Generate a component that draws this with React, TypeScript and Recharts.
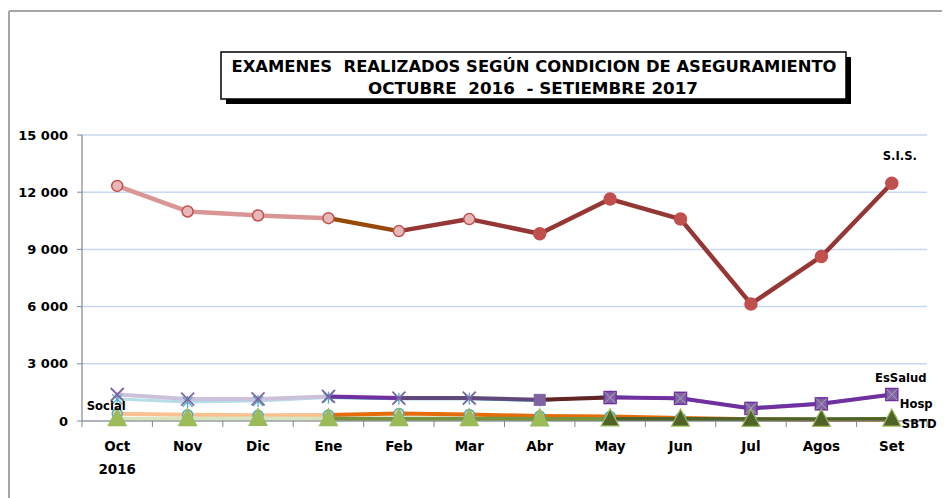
import React from 'react';
import { LineChart, Line, XAxis, YAxis, CartesianGrid } from 'recharts';

// ---- data ----
const months = ['Oct', 'Nov', 'Dic', 'Ene', 'Feb', 'Mar', 'Abr', 'May', 'Jun', 'Jul', 'Agos', 'Set'];
const sis = [12330, 10990, 10780, 10640, 9960, 10590, 9820, 11640, 10590, 6140, 8630, 12470];
const essalud = [1390, 1150, 1160, 1290, 1200, 1200, 1110, 1230, 1190, 660, 900, 1390];
const hosp = [1150, 1000, 1050, 1230, 1170, 1170, 1080, 1280, 1160, 700, 930, 1360];
const social = [380, 330, 300, 310, 390, 340, 260, 240, 160, 90, 70, 60];
const sbtd = [120, 120, 130, 120, 120, 120, 110, 110, 100, 90, 90, 100];
const yTicks = [0, 3000, 6000, 9000, 12000, 15000];
const title1 = 'EXAMENES  REALIZADOS SEGÚN CONDICION DE ASEGURAMIENTO';
const title2 = 'OCTUBRE  2016  - SETIEMBRE 2017';

// ---- layout ----
const W = 942;
const H = 490;
const MARGIN = { top: 127, right: 23, bottom: 17, left: 0 };
const Y_AXIS_W = 74;
const X_AXIS_H = 60;
const BAND = (W - MARGIN.right - MARGIN.left - Y_AXIS_W) / months.length;

const seg = (arr: number[], a: number, b: number) => arr.map((v, i) => (i >= a && i <= b ? v : null));

const segments: Record<string, (number | null)[]> = {
  sis0: seg(sis, 0, 3),
  sis1: seg(sis, 3, 4),
  sis2: seg(sis, 4, 11),
  es0: seg(essalud, 0, 3),
  es1: seg(essalud, 3, 4),
  es2: seg(essalud, 4, 6),
  es3: seg(essalud, 6, 7),
  es4: seg(essalud, 7, 11),
  ho0: seg(hosp, 0, 3),
  ho1: seg(hosp, 3, 11),
  so0: seg(social, 0, 3),
  so1: seg(social, 3, 11),
  sb0: seg(sbtd, 0, 3),
  sb1: seg(sbtd, 3, 7),
  sb2: seg(sbtd, 7, 11),
};

const data = months.map((m, i) => {
  const row: any = { month: m, sis: sis[i], essalud: essalud[i], hosp: hosp[i], social: social[i], sbtd: sbtd[i] };
  Object.keys(segments).forEach((k) => {
    row[k] = segments[k][i];
  });
  return row;
});

const FONT = '"DejaVu Sans", Verdana, sans-serif';

const fmt = (v: number) => String(v).replace(/\B(?=(\d{3})+(?!\d))/g, ' ');

const XTick = (props: any) => {
  const { x, y, payload, index } = props;
  const left = x - BAND / 2;
  return (
    <g>
      <line x1={left} x2={left} y1={y} y2={y + 6} stroke="#868686" strokeWidth={1} />
      {index === months.length - 1 && (
        <line x1={x + BAND / 2} x2={x + BAND / 2} y1={y} y2={y + 6} stroke="#868686" strokeWidth={1} />
      )}
      <text x={x} y={y + 30} textAnchor="middle" fontFamily={FONT} fontWeight="bold" fontSize={13.5} fill="#000">
        {payload.value}
      </text>
      {index === 0 && (
        <text x={x} y={y + 53} textAnchor="middle" fontFamily={FONT} fontWeight="bold" fontSize={13.5} fill="#000">
          2016
        </text>
      )}
    </g>
  );
};

const YTick = (props: any) => {
  const { x, y, payload } = props;
  return (
    <text x={x} y={y} dy={4.5} textAnchor="end" fontFamily={FONT} fontWeight="bold" fontSize={13} fill="#000">
      {fmt(payload.value)}
    </text>
  );
};

const sisDot = (p: any) => {
  const { cx, cy, index } = p;
  if (cx == null || cy == null) return <g key={`sd-${index}`} />;
  const solid = index >= 6;
  return (
    <circle
      key={`sd-${index}`}
      cx={cx}
      cy={cy}
      r={solid ? 6 : 5.5}
      fill={solid ? '#c0504d' : '#e6b9b8'}
      stroke="#c0504d"
      strokeWidth={1.5}
    />
  );
};

const esDot = (p: any) => {
  const { cx, cy, index } = p;
  if (cx == null || cy == null) return <g key={`ed-${index}`} />;
  if (index <= 5) {
    const s = 6.5;
    return (
      <g key={`ed-${index}`}>
        <line x1={cx - s} y1={cy - s} x2={cx + s} y2={cy + s} stroke="#8064a2" strokeWidth={1.8} />
        <line x1={cx - s} y1={cy + s} x2={cx + s} y2={cy - s} stroke="#8064a2" strokeWidth={1.8} />
      </g>
    );
  }
  if (index === 6) {
    return <rect key={`ed-${index}`} x={cx - 5.5} y={cy - 5.5} width={11} height={11} fill="#8064a2" stroke="#8064a2" />;
  }
  const s = 5.5;
  return (
    <g key={`ed-${index}`}>
      <rect x={cx - 6} y={cy - 6} width={12} height={12} fill="#8064a2" stroke="#7030a0" strokeWidth={1.5} />
      <line x1={cx - s} y1={cy - s} x2={cx + s} y2={cy + s} stroke="#b3a2c7" strokeWidth={1} />
      <line x1={cx - s} y1={cy + s} x2={cx + s} y2={cy - s} stroke="#b3a2c7" strokeWidth={1} />
    </g>
  );
};

const hoDot = (p: any) => {
  const { cx, cy, index } = p;
  if (cx == null || cy == null) return <g key={`hd-${index}`} />;
  const s = 5;
  return (
    <g key={`hd-${index}`}>
      <line x1={cx} y1={cy - 6} x2={cx} y2={cy + 6} stroke="#4bacc6" strokeWidth={1.3} />
      <line x1={cx - s} y1={cy - s} x2={cx + s} y2={cy + s} stroke="#4bacc6" strokeWidth={1.2} />
      <line x1={cx - s} y1={cy + s} x2={cx + s} y2={cy - s} stroke="#4bacc6" strokeWidth={1.2} />
    </g>
  );
};

const soDot = (p: any) => {
  const { cx, cy, index } = p;
  if (cx == null || cy == null) return <g key={`od-${index}`} />;
  return <circle key={`od-${index}`} cx={cx} cy={cy} r={5} fill="#fcd5b5" stroke="#4bacc6" strokeWidth={1.5} />;
};

const sbDot = (p: any) => {
  const { cx, cy, index } = p;
  if (cx == null || cy == null) return <g key={`bd-${index}`} />;
  const dark = index >= 7;
  return (
    <path
      key={`bd-${index}`}
      d={`M${cx},${cy - 10} L${cx + 9},${cy + 7} L${cx - 9},${cy + 7} Z`}
      fill={dark ? '#4f6228' : '#9bbb59'}
      stroke="#9bbb59"
      strokeWidth={1.2}
    />
  );
};

const makeLabel = (text: string, at: number, dx: number, dy: number, anchor: string) => (p: any) => {
  const { x, y, index } = p;
  if (index !== at || x == null || y == null) return null;
  return (
    <text
      key={`lbl-${text}`}
      x={x + dx}
      y={y + dy}
      textAnchor={anchor}
      fontFamily={FONT}
      fontWeight="bold"
      fontSize={11.6}
      fill="#000"
    >
      {text}
    </text>
  );
};

const segLine = (key: string, color: string, width: number) => (
  <Line
    key={key}
    type="linear"
    dataKey={key}
    stroke={color}
    strokeWidth={width}
    dot={false}
    activeDot={false}
    isAnimationActive={false}
    connectNulls={false}
    strokeLinejoin="round"
    strokeLinecap="round"
  />
);

export default function App() {
  return (
    <div style={{ position: 'relative', width: W, height: H, background: '#fff' }}>
      <LineChart width={W} height={H} data={data} margin={MARGIN}>
        <CartesianGrid horizontal vertical={false} stroke="#c6d9f1" strokeWidth={1.5} />
        <XAxis
          dataKey="month"
          height={X_AXIS_H}
          padding={{ left: BAND / 2, right: BAND / 2 }}
          axisLine={{ stroke: '#868686', strokeWidth: 1.2 }}
          tickLine={false}
          tickSize={0}
          tickMargin={0}
          interval={0}
          tick={<XTick />}
        />
        <YAxis
          width={Y_AXIS_W}
          domain={[0, 15000]}
          ticks={yTicks}
          axisLine={{ stroke: '#868686', strokeWidth: 1.2 }}
          tickLine={{ stroke: '#868686' }}
          tickSize={5}
          tickMargin={9}
          tick={<YTick />}
        />

        {/* Hosp */}
        {segLine('ho0', '#b7dee8', 3)}
        {segLine('ho1', '#4bacc6', 3)}
        <Line dataKey="hosp" stroke="none" dot={hoDot} activeDot={false} isAnimationActive={false}
          label={makeLabel('Hosp', 11, 8, 13, 'start')} />

        {/* EsSalud */}
        {segLine('es0', '#ccc1da', 4)}
        {segLine('es1', '#7030a0', 4)}
        {segLine('es2', '#604a7b', 4)}
        {segLine('es3', '#632523', 4)}
        {segLine('es4', '#7030a0', 4)}
        <Line dataKey="essalud" stroke="none" dot={esDot} activeDot={false} isAnimationActive={false}
          label={makeLabel('EsSalud', 11, 9, -12, 'middle')} />

        {/* Social */}
        {segLine('so0', '#fac090', 4)}
        {segLine('so1', '#e46c0a', 4)}
        <Line dataKey="social" stroke="none" dot={soDot} activeDot={false} isAnimationActive={false} />

        {/* SBTD */}
        {segLine('sb0', '#d7e4bd', 4)}
        {segLine('sb1', '#77933c', 4)}
        {segLine('sb2', '#4f6228', 4)}
        <Line dataKey="sbtd" stroke="none" dot={sbDot} activeDot={false} isAnimationActive={false}
          label={makeLabel('SBTD', 11, 10, 9, 'start')} />

        {/* Social label on top */}
        <Line dataKey="social" stroke="none" dot={false} activeDot={false} isAnimationActive={false}
          label={makeLabel('Social', 0, -11, -4, 'middle')} />

        {/* S.I.S. */}
        {segLine('sis0', '#d99694', 4.5)}
        {segLine('sis1', '#984807', 4.5)}
        {segLine('sis2', '#953735', 4.5)}
        <Line dataKey="sis" stroke="none" dot={sisDot} activeDot={false} isAnimationActive={false}
          label={makeLabel('S.I.S.', 11, 8, -23, 'middle')} />
      </LineChart>

      <svg
        width={W}
        height={H}
        style={{ position: 'absolute', left: 0, top: 0, pointerEvents: 'none' }}
      >
        <line x1={1} y1={3} x2={W} y2={3} stroke="#a6a6a6" strokeWidth={2} />
        <line x1={1} y1={3} x2={1} y2={H} stroke="#a6a6a6" strokeWidth={2} />
        <rect x={218} y={49} width={625} height={47} fill="#000" />
        <rect x={213} y={44} width={625} height={47} fill="#fff" stroke="#000" strokeWidth={1.5} />
        <text
          x={526}
          y={64}
          textAnchor="middle"
          textLength={605}
          lengthAdjust="spacingAndGlyphs"
          fontFamily='"Liberation Sans Narrow", "Arial Narrow", "DejaVu Sans Condensed", sans-serif'
          fontWeight="bold"
          fontSize={15}
          style={{ whiteSpace: 'pre' }}
        >
          {title1}
        </text>
        <text
          x={525}
          y={86}
          textAnchor="middle"
          textLength={330}
          lengthAdjust="spacingAndGlyphs"
          fontFamily='"Liberation Sans Narrow", "Arial Narrow", "DejaVu Sans Condensed", sans-serif'
          fontWeight="bold"
          fontSize={15}
          style={{ whiteSpace: 'pre' }}
        >
          {title2}
        </text>
      </svg>
    </div>
  );
}
